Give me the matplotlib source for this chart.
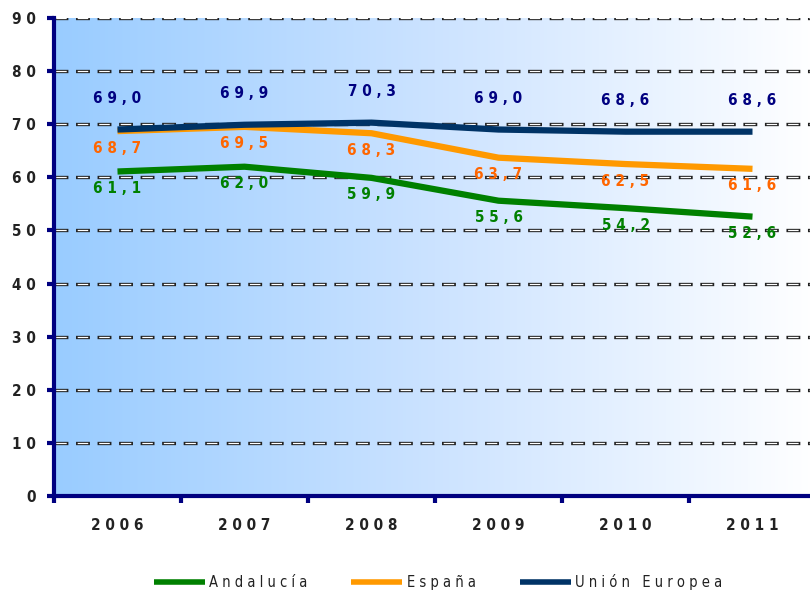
import numpy as np
import matplotlib.pyplot as plt
from matplotlib.colors import LinearSegmentedColormap

years = ["2006", "2007", "2008", "2009", "2010", "2011"]
andalucia = [61.1, 62.0, 59.9, 55.6, 54.2, 52.6]
espana = [68.7, 69.5, 68.3, 63.7, 62.5, 61.6]
ue = [69.0, 69.9, 70.3, 69.0, 68.6, 68.6]

def sp(s):
    # spaced-out letters like the original
    return " ".join(s)

plt.rcParams['font.family'] = ['DejaVu Sans']
plt.rcParams['font.stretch'] = 'condensed'
plt.rcParams['lines.scale_dashes'] = False

fig = plt.figure(figsize=(8.1, 5.95), dpi=100)
ax = fig.add_axes([54/810, 99/595, 762/810, 478/595])

x = np.arange(len(years))
ax.set_xlim(-0.5, 5.5)
ax.set_ylim(0, 90)

# gradient background
cmap = LinearSegmentedColormap.from_list("bg", ["#99ccff", "#cce3ff", "#ffffff"])
grad = np.linspace(0, 1, 256).reshape(1, -1)
ax.imshow(grad, extent=[-0.5, 5.5, 0, 90], aspect="auto", cmap=cmap, zorder=0)

# dashed "3d" gridlines
for yv in range(10, 91, 10):
    ax.axhline(yv, color="#222222", lw=2.4, linestyle=(0, (10.0, 5.5)), zorder=1)
    ax.axhline(yv, color="white", lw=0.9, linestyle=(0, (0, 1.2, 7.6, 6.7)), zorder=1.1)

ax.plot(x, andalucia, color="#008000", lw=4.5, label=sp("Andalucía"), zorder=3, solid_capstyle="butt")
ax.plot(x, espana, color="#ff9900", lw=4.5, label=sp("España"), zorder=3, solid_capstyle="butt")
ax.plot(x, ue, color="#003366", lw=4.5, label=sp("Unión Europea"), zorder=3, solid_capstyle="butt")

def fmt(v):
    return sp(("%.1f" % v).replace(".", ","))

for i in range(len(years)):
    ax.text(x[i], ue[i] + 5.8, fmt(ue[i]), color="#000080", ha="center", va="center",
            fontsize=11, fontweight="bold", zorder=4)
    ax.text(x[i], espana[i] - 3.2, fmt(espana[i]), color="#ff6600", ha="center", va="center",
            fontsize=11, fontweight="bold", zorder=4)
    ax.text(x[i], andalucia[i] - 3.2, fmt(andalucia[i]), color="#008000", ha="center", va="center",
            fontsize=11, fontweight="bold", zorder=4)

ax.set_yticks(range(0, 91, 10))
ax.set_yticklabels([sp(str(v)) for v in range(0, 91, 10)], fontsize=11, fontweight="bold", color="#222222")
ax.set_xticks(x)
ax.set_xticklabels([sp(y) for y in years], fontsize=11, fontweight="bold", color="#222222")
ax.tick_params(axis="x", length=0, pad=16)
ax.set_xticks(np.arange(-0.5, 6, 1), minor=True)
ax.tick_params(axis="x", which="minor", length=5, width=3, color="#000080", direction="out")
ax.tick_params(axis="y", length=5, width=3, color="#000080", direction="out", pad=8)

for s in ["top", "right"]:
    ax.spines[s].set_visible(False)
for s in ["left", "bottom"]:
    ax.spines[s].set_color("#000080")
    ax.spines[s].set_linewidth(3)
    ax.spines[s].set_zorder(5)

leg = fig.legend(loc="center", bbox_to_anchor=(438/810, 1 - 582/595), ncol=3, frameon=False,
                 fontsize=10.5, handlelength=3.5, columnspacing=3.0, handletextpad=0.3)
for t in leg.get_texts():
    t.set_color("#222222")
for l in leg.get_lines():
    l.set_linewidth(4)

fig.savefig("out.png", dpi=100)
